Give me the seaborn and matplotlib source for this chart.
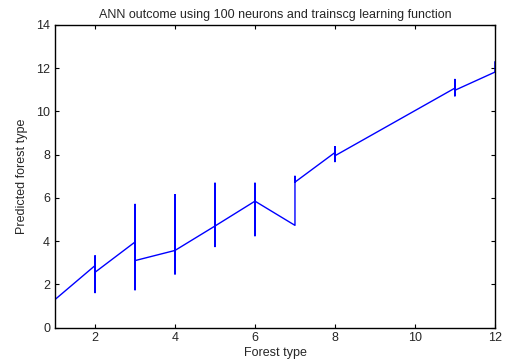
import seaborn as sns
import matplotlib.pyplot as plt

# predicted vs actual forest type, points in the order they were plotted
forest_type = [1,
               2, 2, 2, 2,
               3, 3, 3, 3,
               4, 4, 4, 4,
               5, 5, 5, 5,
               6, 6, 6, 6,
               7, 7, 7,
               8, 8, 8, 8,
               11, 11, 11, 11,
               12, 12]
predicted = [1.30,
             2.87, 1.62, 3.32, 2.56,
             3.96, 1.75, 5.70, 3.10,
             3.57, 2.48, 6.15, 3.57,
             4.70, 3.75, 6.68, 4.70,
             5.85, 4.25, 6.68, 5.85,
             4.73, 7.00, 6.73,
             8.10, 7.68, 8.37, 7.95,
             11.08, 10.72, 11.48, 10.98,
             11.82, 12.30]

sns.set_style("white")
plt.rcParams["font.family"] = ["Liberation Sans", "DejaVu Sans"]

fig = plt.figure(figsize=(5.05, 3.62), dpi=100)
ax = fig.add_axes([0.109, 0.095, 0.871, 0.836])

sns.lineplot(x=forest_type, y=predicted, sort=False, estimator=None,
             color="blue", linewidth=1, ax=ax)

ax.set_xlim(1, 12)
ax.set_ylim(0, 14)
ax.set_xticks([2, 4, 6, 8, 10, 12])
ax.set_yticks(range(0, 15, 2))
ax.tick_params(direction="in", length=3, width=0.8, labelsize=9,
               top=True, right=True, bottom=True, left=True, color="black")
for s in ax.spines.values():
    s.set_color("black")
    s.set_linewidth(1)

ax.set_title("ANN outcome using 100 neurons and trainscg learning function",
             fontsize=9, pad=5)
ax.set_xlabel("Forest type", fontsize=9, labelpad=2)
ax.set_ylabel("Predicted forest type", fontsize=9, labelpad=6)

plt.savefig("out.png", dpi=100)
